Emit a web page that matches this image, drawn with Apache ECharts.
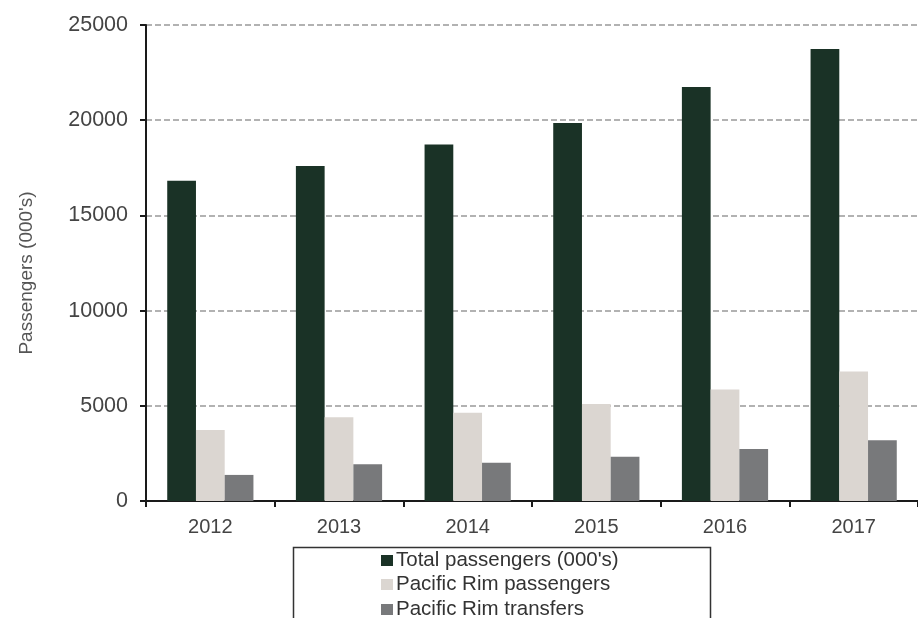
<!DOCTYPE html>
<html>
<head>
<meta charset="utf-8">
<script src="https://cdn.jsdelivr.net/npm/echarts@6/dist/echarts.min.js"></script>
<style>
html,body{margin:0;padding:0;background:#fff;}
#chart{width:918px;height:618px;}
</style>
</head>
<body>
<div id="chart"></div>
<script>
var categories = ['2012','2013','2014','2015','2016','2017'];
var totalPassengers = [16820, 17590, 18720, 19850, 21750, 23740];
var pacificRimPassengers = [3730, 4400, 4640, 5100, 5850, 6800];
var pacificRimTransfers = [1370, 1930, 2010, 2330, 2730, 3190];
var seriesNames = ["Total passengers (000's)", 'Pacific Rim passengers', 'Pacific Rim transfers'];
var yTicks = {min: 0, max: 25000, interval: 5000};

var chart = echarts.init(document.getElementById('chart'));
var font = 'Liberation Sans, Arial, sans-serif';
var legendTops = [550, 574, 599];
var legends = seriesNames.map(function (n, i) {
  return {
    orient: 'vertical',
    left: 381,
    top: legendTops[i],
    itemWidth: 12,
    itemHeight: 11,
    icon: 'rect',
    padding: 0,
    textStyle: {color: '#333', fontSize: 20.5, fontFamily: font, padding: [0, 0, 0, -2]},
    data: [n]
  };
});
chart.setOption({
  animation: false,
  backgroundColor: '#fff',
  grid: {left: 146, top: 25, width: 780, bottom: 117, containLabel: false},
  xAxis: {
    type: 'category',
    data: categories,
    axisLine: {lineStyle: {color: '#1a1a1a', width: 2}},
    axisTick: {show: true, length: 6, lineStyle: {color: '#1a1a1a', width: 2}},
    axisLabel: {color: '#444', fontSize: 20, fontFamily: font, margin: 16}
  },
  yAxis: {
    type: 'value',
    min: yTicks.min, max: yTicks.max, interval: yTicks.interval,
    name: 'Passengers (000\'s)',
    nameLocation: 'middle',
    nameRotate: 90,
    nameGap: 110,
    nameTextStyle: {color: '#555', fontSize: 19, fontFamily: font, padding: [0, 20, 0, 0]},
    axisLine: {show: true, lineStyle: {color: '#1a1a1a', width: 2}},
    axisTick: {show: true, inside: false, length: 6, lineStyle: {color: '#1a1a1a', width: 2}},
    axisLabel: {color: '#444', fontSize: 21.5, fontFamily: font, margin: 18,
      formatter: function (v) { return String(v); }},
    splitLine: {show: true, lineStyle: {color: '#999', type: [6, 3], width: 1.5}}
  },
  legend: legends,
  graphic: [{
    type: 'rect',
    shape: {x: 293.5, y: 547.5, width: 417, height: 100},
    style: {fill: 'none', stroke: '#333', lineWidth: 1.5},
    silent: true,
    z: -1
  }],
  series: [
    {name: seriesNames[0], type: 'bar', data: totalPassengers, itemStyle: {color: '#1a3226'}, barGap: '0%', barCategoryGap: '33%'},
    {name: seriesNames[1], type: 'bar', data: pacificRimPassengers, itemStyle: {color: '#dbd6d1'}},
    {name: seriesNames[2], type: 'bar', data: pacificRimTransfers, itemStyle: {color: '#78797b'}}
  ]
});
</script>
</body>
</html>
